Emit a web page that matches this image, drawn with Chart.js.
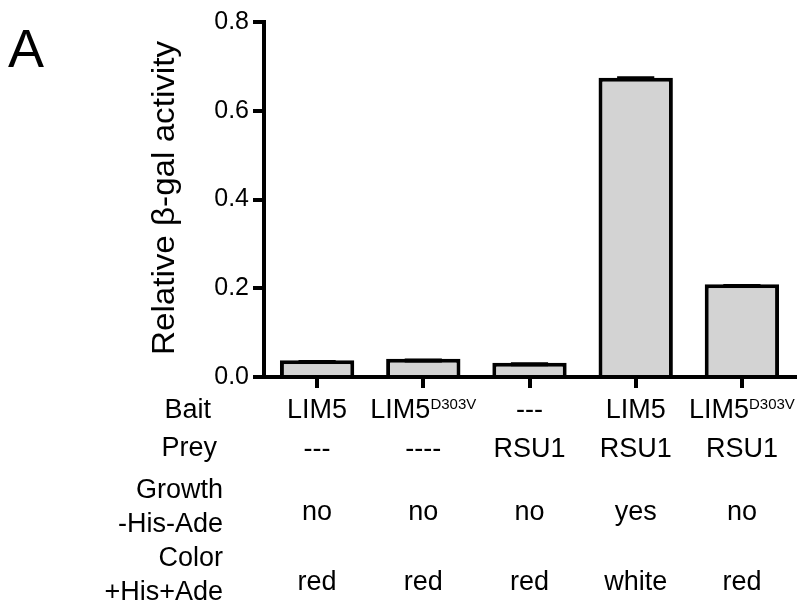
<!DOCTYPE html>
<html>
<head>
<meta charset="utf-8">
<script src="https://cdn.jsdelivr.net/npm/chart.js@4.4.0/dist/chart.umd.min.js"></script>
<style>
  body { margin: 0; background: #fff; }
  canvas { display: block; }
</style>
</head>
<body>
<canvas id="canvas" width="802" height="603"></canvas>
<script>
const baitLabels = ['LIM5', 'LIM5', '---', 'LIM5', 'LIM5'];
const baitSuperscripts = ['', 'D303V', '', '', 'D303V'];
const preyLabels = ['---', '----', 'RSU1', 'RSU1', 'RSU1'];
const growthLabels = ['no', 'no', 'no', 'yes', 'no'];
const colorLabels = ['red', 'red', 'red', 'white', 'red'];
const activity = [0.038, 0.041, 0.032, 0.6745, 0.209];
const activityErr = [0.0005, 0.0005, 0.001, 0.003, 0.0005];
const rowHeaders = [['Bait'], ['Prey'], ['Growth', '-His-Ade'], ['Color', '+His+Ade']];

const FONT = '"Liberation Sans", Arial, sans-serif';

const backgroundPlugin = {
  id: 'background',
  beforeDraw(chart) {
    const ctx = chart.ctx;
    ctx.save();
    ctx.fillStyle = '#fff';
    ctx.fillRect(0, 0, chart.width, chart.height);
    ctx.restore();
  }
};

// error caps on top of the bars
const errorBarPlugin = {
  id: 'errorBars',
  afterDatasetsDraw(chart) {
    const ctx = chart.ctx;
    const y = chart.scales.y;
    const meta = chart.getDatasetMeta(0);
    ctx.save();
    ctx.strokeStyle = '#000';
    ctx.lineWidth = 4;
    meta.data.forEach((bar, i) => {
      const top = y.getPixelForValue(activity[i] + activityErr[i]) + 2;
      const base = y.getPixelForValue(activity[i]) + 2;
      const half = bar.width / 4;
      ctx.beginPath();
      ctx.moveTo(bar.x, base);
      ctx.lineTo(bar.x, top);
      ctx.moveTo(bar.x - half, top);
      ctx.lineTo(bar.x + half, top);
      ctx.stroke();
    });
    ctx.restore();
  }
};

// panel letter, y title and the table under the axis
const annotationPlugin = {
  id: 'annotations',
  afterDraw(chart) {
    const ctx = chart.ctx;
    const x = chart.scales.x;
    ctx.save();
    ctx.fillStyle = '#000';
    ctx.textBaseline = 'alphabetic';

    ctx.font = '54px ' + FONT;
    ctx.textAlign = 'left';
    ctx.fillText('A', 8, 67);

    ctx.save();
    ctx.translate(174, 198);
    ctx.rotate(-Math.PI / 2);
    ctx.scale(1.07, 1);
    ctx.font = '31px ' + FONT;
    ctx.textAlign = 'center';
    ctx.fillText('Relative \u03b2-gal activity', 0, 0);
    ctx.restore();

    // row headers
    ctx.font = '27px ' + FONT;
    ctx.textAlign = 'right';
    ctx.fillText(rowHeaders[0][0], 211, 418);
    ctx.fillText(rowHeaders[1][0], 217, 456);
    ctx.fillText(rowHeaders[2][0], 223, 498);
    ctx.fillText(rowHeaders[2][1], 223, 532);
    ctx.fillText(rowHeaders[3][0], 223, 566);
    ctx.fillText(rowHeaders[3][1], 223, 600);

    for (let i = 0; i < baitLabels.length; i++) {
      const cx = x.getPixelForValue(i);
      // bait with optional superscript
      ctx.font = '27px ' + FONT;
      const mainW = ctx.measureText(baitLabels[i]).width;
      ctx.font = '15px ' + FONT;
      const supW = baitSuperscripts[i] ? ctx.measureText(baitSuperscripts[i]).width : 0;
      const start = cx - (mainW + supW) / 2;
      ctx.textAlign = 'left';
      ctx.font = '27px ' + FONT;
      ctx.fillText(baitLabels[i], start, 418);
      if (supW) {
        ctx.font = '15px ' + FONT;
        ctx.fillText(baitSuperscripts[i], start + mainW, 409);
      }
      ctx.font = '27px ' + FONT;
      ctx.textAlign = 'center';
      ctx.fillText(preyLabels[i], cx, 457);
      ctx.fillText(growthLabels[i], cx, 520);
      ctx.fillText(colorLabels[i], cx, 590);
    }
    ctx.restore();
  }
};

new Chart(document.getElementById('canvas'), {
  type: 'bar',
  data: {
    labels: baitLabels.map((b, i) => b + baitSuperscripts[i] + ' / ' + preyLabels[i]),
    datasets: [{
      label: 'Relative beta-gal activity',
      data: activity,
      backgroundColor: '#d3d3d3',
      borderColor: '#000',
      borderWidth: 4,
      barPercentage: 0.7,
      categoryPercentage: 1.0
    }]
  },
  options: {
    responsive: false,
    animation: false,
    layout: { padding: { left: 0, top: 22, right: 7, bottom: 0 } },
    plugins: {
      legend: { display: false },
      tooltip: { enabled: false }
    },
    scales: {
      x: {
        afterFit(scale) { scale.height = 226; },
        ticks: { display: false },
        grid: {
          display: true,
          drawOnChartArea: false,
          drawTicks: true,
          tickLength: 11,
          offset: false,
          color: '#000',
          lineWidth: 4
        },
        border: { display: true, color: '#000', width: 4 }
      },
      y: {
        min: 0,
        max: 0.8,
        afterFit(scale) { scale.width = 264; },
        ticks: {
          stepSize: 0.2,
          padding: 4,
          color: '#000',
          font: { family: FONT, size: 25 },
          callback: v => v.toFixed(1)
        },
        grid: {
          display: true,
          drawOnChartArea: false,
          drawTicks: true,
          tickLength: 11,
          color: '#000',
          lineWidth: 4
        },
        border: { display: true, color: '#000', width: 4 }
      }
    }
  },
  plugins: [backgroundPlugin, errorBarPlugin, annotationPlugin]
});
</script>
</body>
</html>
